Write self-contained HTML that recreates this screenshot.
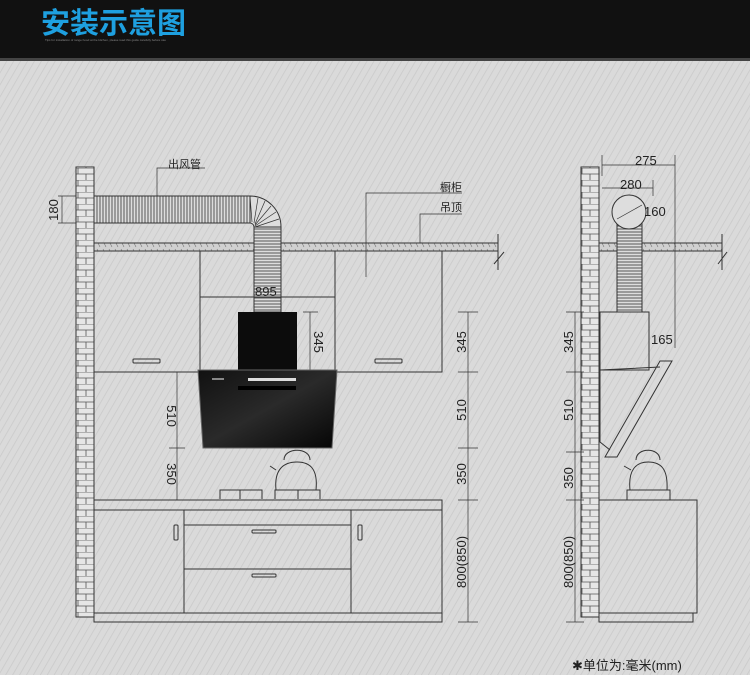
<!DOCTYPE html>
<html><head><meta charset="utf-8"><style>
html,body{margin:0;padding:0;width:750px;height:675px;overflow:hidden;background:#d8d8d8}
svg{display:block}
text{font-family:"Liberation Sans","Noto Sans CJK SC",sans-serif;fill:#222}
</style></head><body>
<svg width="750" height="675" viewBox="0 0 750 675" xmlns="http://www.w3.org/2000/svg">
<defs>
<pattern id="stripe" width="6" height="6" patternUnits="userSpaceOnUse" patternTransform="rotate(30)">
<rect width="6" height="6" fill="#dadada"/><line x1="0" y1="0" x2="0" y2="6" stroke="#c9c9c9" stroke-width="1.5"/>
</pattern>
<pattern id="brick" width="18" height="12" patternUnits="userSpaceOnUse">
<rect width="18" height="12" fill="#e6e6e6"/>
<path d="M0 0H18M0 6H18M6 0V6M14 6V12" stroke="#555" stroke-width="0.8" fill="none"/>
</pattern>
<pattern id="duchH" width="3" height="10" patternUnits="userSpaceOnUse"><rect width="3" height="10" fill="#ddd"/><line x1="1" y1="0" x2="1" y2="10" stroke="#333" stroke-width="0.8"/></pattern>
<pattern id="duchV" width="10" height="3" patternUnits="userSpaceOnUse"><rect width="10" height="3" fill="#ddd"/><line x1="0" y1="1" x2="10" y2="1" stroke="#333" stroke-width="0.8"/></pattern>
<pattern id="ceil" width="6" height="8" patternUnits="userSpaceOnUse"><rect width="6" height="8" fill="#d0d0d0"/><line x1="1" y1="1" x2="4" y2="7" stroke="#777" stroke-width="0.6"/></pattern>
<linearGradient id="glass" x1="0" y1="0" x2="1" y2="1"><stop offset="0" stop-color="#111"/><stop offset="0.5" stop-color="#2a2a2a"/><stop offset="1" stop-color="#050505"/></linearGradient>
</defs>
<rect x="0" y="60" width="750" height="615" fill="url(#stripe)"/>
<rect x="0" y="0" width="750" height="60" fill="#111"/>
<rect x="0" y="58" width="750" height="3" fill="#444"/>
<text x="41" y="33" style="font-size:29px;font-weight:bold;fill:#1ea0e0;font-family:'Noto Sans CJK SC',sans-serif">安装示意图</text>
<text x="45" y="41" style="font-size:3px;fill:#888">Tips for installation of range hood at the kitchen, please read this guide carefully before use</text>

<g stroke="#333" fill="none" stroke-width="1">
<!-- left wall -->
<rect x="76" y="167" width="18" height="450" fill="url(#brick)"/>
<!-- ceiling -->
<rect x="94" y="243" width="404" height="8" fill="url(#ceil)"/>
<line x1="498" y1="234" x2="498" y2="270"/><line x1="494" y1="264" x2="504" y2="252"/>
<!-- duct -->
<rect x="94" y="196" width="156" height="27" fill="url(#duchH)"/>
<path d="M250 196 A31 31 0 0 1 281 227 L254 227 A4 4 0 0 0 250 223 Z" fill="#ddd"/>
<path d="M250 196 L252 222 M258 198 L254 223 M265 201 L255 224 M271 206 L255 225 M276 212 L255 226 M279 219 L255 227" stroke-width="0.7"/>
<rect x="254" y="227" width="27" height="85" fill="url(#duchV)"/>
<!-- upper cabinets -->
<path d="M94 251 V372 H200 V251"/>
<path d="M200 297 H335"/>
<path d="M200 251 V372 M335 251 V372 H442 V251"/>
<rect x="133" y="359" width="27" height="4" rx="1"/>
<rect x="375" y="359" width="27" height="4" rx="1"/>
<!-- labels -->
<path d="M157 196 V168 H205" stroke-width="0.7"/>
<path d="M366 277 V193 H462" stroke-width="0.7"/>
<path d="M420 243 V214 H462" stroke-width="0.7"/>
<!-- 180 dim -->
<path d="M62 196 V223 M58 196 H76 M58 223 H76" stroke-width="0.7"/>
<!-- counter -->
<rect x="94" y="500" width="348" height="10"/>
<rect x="94" y="510" width="348" height="103"/>
<rect x="94" y="613" width="348" height="9"/>
<path d="M184 510 V613 M351 510 V613 M184 525 H351 M184 569 H351"/>
<rect x="174" y="525" width="4" height="15" rx="1"/>
<rect x="358" y="525" width="4" height="15" rx="1"/>
<rect x="252" y="530" width="24" height="3" rx="1"/>
<rect x="252" y="574" width="24" height="3" rx="1"/>
<!-- stove -->
<path d="M214 500 H322 M220 499 V490 H262 V499 M275 499 V490 H320 V499 M240 490 V499 M298 490 V499"/>
<path d="M276 490 C 274 470, 283 462, 297 462 C 311 462, 318 470, 316 490"/>
<path d="M284 460 C 284 447, 310 447, 310 460"/>
<path d="M276 470 L 270 466"/>
<!-- dims left -->
<path d="M177 372 V500 M169 448 H185 M169 500 H185" stroke-width="0.7"/>
<path d="M310 312 V372 M303 312 H318" stroke-width="0.7"/>
<!-- dims right -->
<path d="M468 312 V622 M458 312 H478 M458 372 H478 M458 448 H478 M458 500 H478 M458 622 H478" stroke-width="0.7"/>
</g>
<!-- hood -->
<rect x="238" y="312" width="59" height="60" fill="#0c0c0c"/>
<path d="M198 370 H337 L332 448 H203 Z" fill="url(#glass)" stroke="#666" stroke-width="1"/>
<rect x="248" y="378" width="48" height="3" fill="#ddd"/>
<rect x="238" y="386" width="58" height="4" fill="#000"/>
<rect x="212" y="378" width="12" height="2" fill="#888"/>

<g stroke="#333" fill="none" stroke-width="1">
<!-- right wall -->
<rect x="581" y="167" width="18" height="450" fill="url(#brick)"/>
<rect x="599" y="243" width="123" height="8" fill="url(#ceil)"/>
<line x1="722" y1="234" x2="722" y2="270"/><line x1="718" y1="264" x2="727" y2="252"/>
<rect x="617" y="215" width="25" height="97" fill="url(#duchV)"/>
<circle cx="629" cy="212" r="17" fill="#ddd"/>
<line x1="617" y1="219" x2="642" y2="205" stroke-width="0.7"/>
<rect x="600" y="312" width="49" height="58" fill="none"/>
<path d="M600 370 L660 367 M660 361 L672 361 L617 457 L605 457 Z M600 370 V442 L610 450"/>
<path d="M602 155 V176 M675 155 V348 M602 165 H675 M602 188 H653 M653 180 V196" stroke-width="0.7"/>
<!-- counter right -->
<rect x="599" y="500" width="98" height="113"/>
<rect x="599" y="613" width="94" height="9"/>
<path d="M627 500 V490 H670 V500 M622 500 H676"/>
<path d="M630 490 C 628 470, 636 462, 648 462 C 662 462, 668 470, 667 490"/>
<path d="M636 460 C 636 447, 660 447, 660 460 M631 470 L624 466"/>
<path d="M575 312 V622 M566 312 H584 M566 372 H584 M566 452 H584 M566 500 H584 M566 622 H584" stroke-width="0.7"/>
</g>

<g style="font-size:13px">
<text x="168" y="168" style="font-size:11px">出风管</text>
<text x="440" y="191" style="font-size:11px">橱柜</text>
<text x="440" y="211" style="font-size:11px">吊顶</text>
<text x="255" y="296">895</text>
<text x="635" y="165">275</text>
<text x="620" y="189">280</text>
<text x="644" y="216">160</text>
<text x="651" y="344">165</text>
<text transform="translate(58,210) rotate(-90)" text-anchor="middle">180</text>
<text transform="translate(314,342) rotate(90)" text-anchor="middle">345</text>
<text transform="translate(167,416) rotate(90)" text-anchor="middle">510</text>
<text transform="translate(167,474) rotate(90)" text-anchor="middle">350</text>
<text transform="translate(466,342) rotate(-90)" text-anchor="middle">345</text>
<text transform="translate(466,410) rotate(-90)" text-anchor="middle">510</text>
<text transform="translate(466,474) rotate(-90)" text-anchor="middle">350</text>
<text transform="translate(466,562) rotate(-90)" text-anchor="middle">800(850)</text>
<text transform="translate(573,342) rotate(-90)" text-anchor="middle">345</text>
<text transform="translate(573,410) rotate(-90)" text-anchor="middle">510</text>
<text transform="translate(573,478) rotate(-90)" text-anchor="middle">350</text>
<text transform="translate(573,562) rotate(-90)" text-anchor="middle">800(850)</text>
<text x="572" y="670">✱单位为:毫米(mm)</text>
</g>
</svg>
</body></html>
